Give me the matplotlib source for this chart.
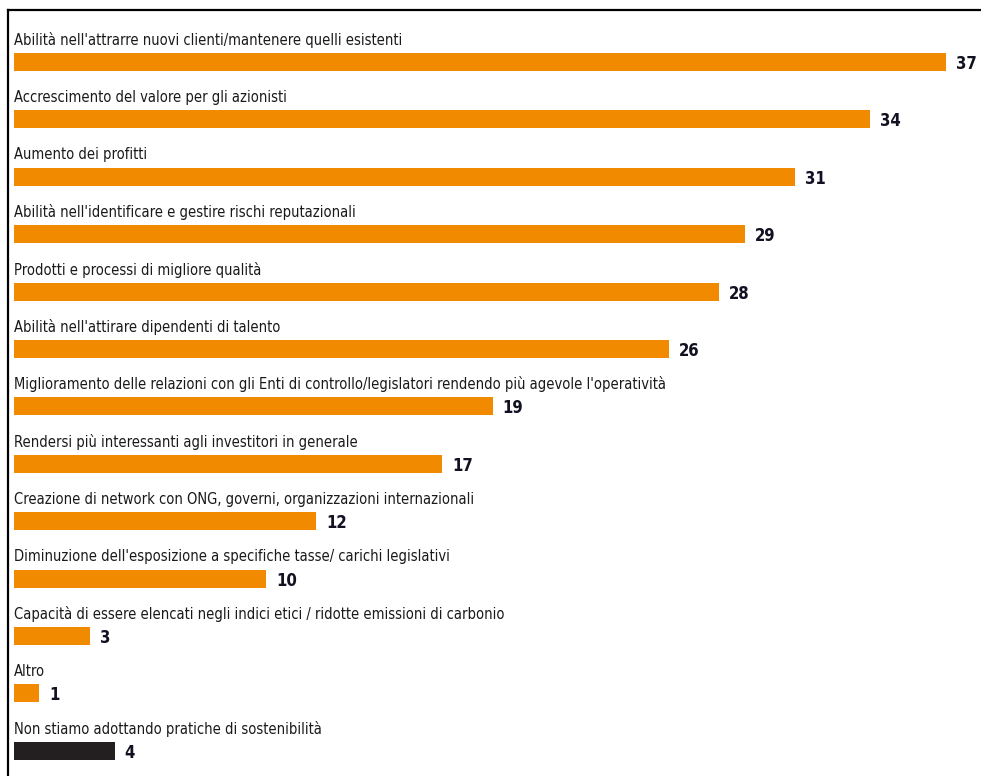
import matplotlib
matplotlib.use("Agg")
from matplotlib import pyplot as plt
from matplotlib.lines import Line2D

labels = [
    "Abilità nell'attrarre nuovi clienti/mantenere quelli esistenti",
    "Accrescimento del valore per gli azionisti",
    "Aumento dei profitti",
    "Abilità nell'identificare e gestire rischi reputazionali",
    "Prodotti e processi di migliore qualità",
    "Abilità nell'attirare dipendenti di talento",
    "Miglioramento delle relazioni con gli Enti di controllo/legislatori rendendo più agevole l'operatività",
    "Rendersi più interessanti agli investitori in generale",
    "Creazione di network con ONG, governi, organizzazioni internazionali",
    "Diminuzione dell'esposizione a specifiche tasse/ carichi legislativi",
    "Capacità di essere elencati negli indici etici / ridotte emissioni di carbonio",
    "Altro",
    "Non stiamo adottando pratiche di sostenibilità",
]
values = [37, 34, 31, 29, 28, 26, 19, 17, 12, 10, 3, 1, 4]
colors = ["#F28A00"] * 12 + ["#231F20"]

W, H = 981, 776
px_unit = 25.19   # pixels per percentage point
x0 = 14           # pixel where bars start
y0 = 62           # centre of the first bar
step = 57.4       # pixel distance between bars

fig = plt.figure(figsize=(W / 100, H / 100), dpi=100)
ax = fig.add_axes([0, 0, 1, 1])
ax.set_xlim(-x0 / px_unit, (W - x0) / px_unit)
ax.set_ylim((H - y0) / step, -y0 / step)
ax.axis("off")

pos = list(range(len(values)))
ax.barh(pos, values, height=18 / step, color=colors, left=0)

for i in pos:
    ax.text(0, i - 22 / step, labels[i], va="center", ha="left",
            fontsize=10.5, family="DejaVu Sans", fontstretch="condensed", color="#1a1a1a")
    ax.text(values[i] + 10 / px_unit, i + 2 / step, str(values[i]), va="center", ha="left",
            fontsize=12, fontweight="heavy", family="DejaVu Sans", fontstretch="condensed",
            color="#111122")

# frame lines at top and left
fig.add_artist(Line2D([8 / W, 1], [1 - 10 / H, 1 - 10 / H], color="black", lw=1.6))
fig.add_artist(Line2D([8 / W, 8 / W], [0, 1 - 10 / H], color="black", lw=1.6))

fig.savefig("out.png", dpi=100)
